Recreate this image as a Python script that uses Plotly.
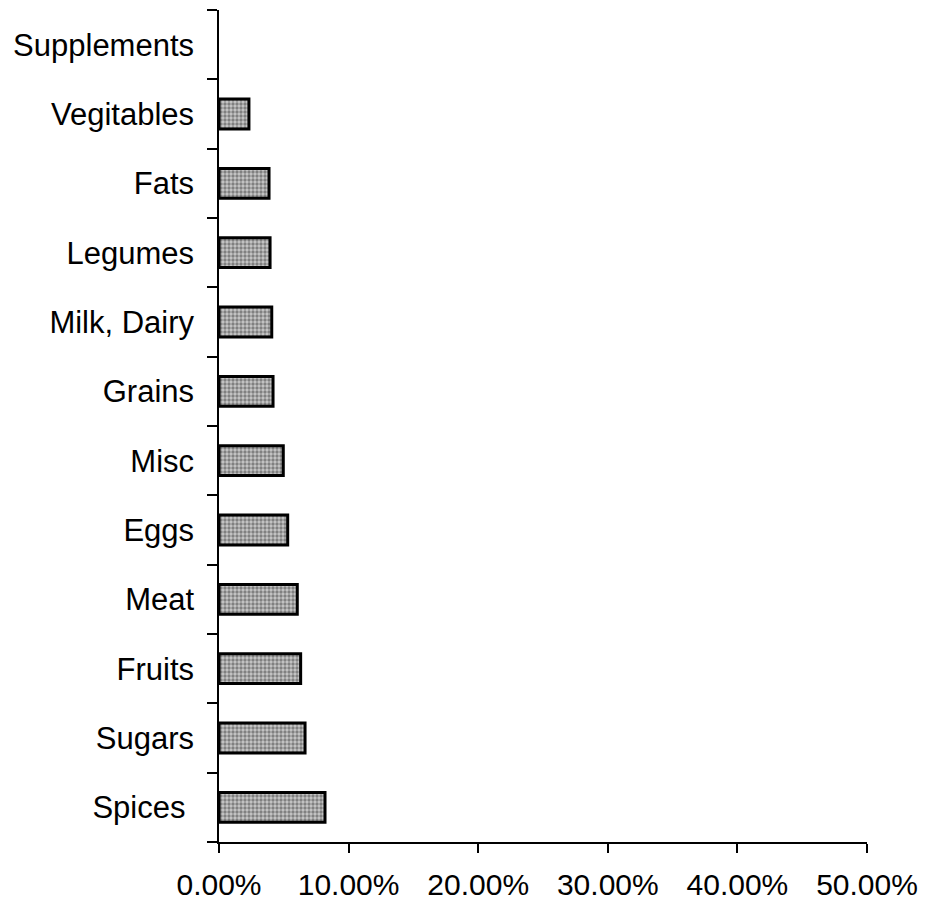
import plotly.graph_objects as go

categories = ["Spices\u00a0", "Sugars", "Fruits", "Meat", "Eggs", "Misc", "Grains",
              "Milk, Dairy", "Legumes", "Fats", "Vegitables", "Supplements"]
values = [0.0818, 0.0664, 0.0630, 0.0604, 0.0530, 0.0496, 0.0417,
          0.0407, 0.0394, 0.0386, 0.0231, 0.0]
x_ticks = [0, 0.1, 0.2, 0.3, 0.4, 0.5]
x_tick_labels = ["0.00%", "10.00%", "20.00%", "30.00%", "40.00%", "50.00%"]

border_widths = [3 if v > 0 else 0 for v in values]

fig = go.Figure(go.Bar(
    x=values, y=categories, orientation="h", width=0.43,
    marker=dict(
        color="#a8a8a8",
        line=dict(color="black", width=border_widths),
        pattern=dict(shape=".", bgcolor="#c8c8c8", fgcolor="#383838",
                     size=4, solidity=0.55, fillmode="overlay"),
    ),
    showlegend=False,
))

fig.update_layout(
    width=926, height=907,
    margin=dict(l=211, r=67, t=2, b=73),
    paper_bgcolor="white", plot_bgcolor="white",
    font=dict(family="Liberation Sans, Arial, sans-serif", color="black"),
)
fig.update_xaxes(
    range=[0, 0.5], tickvals=x_ticks, ticktext=x_tick_labels,
    showgrid=False, zeroline=False,
    showline=True, linecolor="black", linewidth=1.5,
    ticks="outside", ticklen=9, tickwidth=1.5, tickcolor="black",
    tickfont=dict(size=30), ticklabelstandoff=6,
)
fig.update_yaxes(
    type="category", categoryorder="array", categoryarray=categories,
    showgrid=False, zeroline=False,
    showline=True, linecolor="black", linewidth=1.5,
    ticks="outside", ticklen=10, tickwidth=1.5, tickcolor="black",
    tickson="boundaries",
    tickfont=dict(size=31), ticklabelstandoff=17,
)

fig.write_html("out.html")
